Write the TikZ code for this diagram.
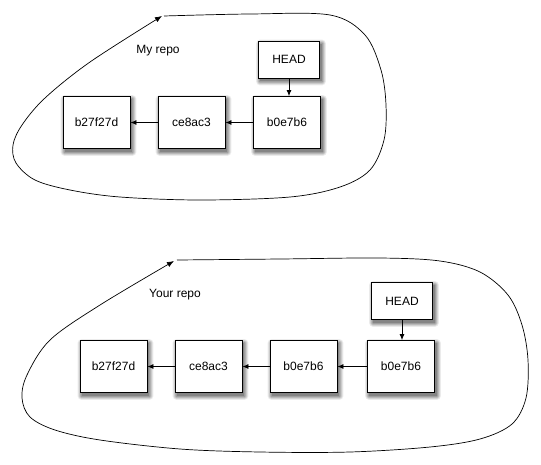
\documentclass[tikz,border=0pt]{standalone}
\usepackage{fontspec}
\setmainfont{Liberation Sans}
\usetikzlibrary{arrows.meta,backgrounds,calc}
\begin{document}
\begin{tikzpicture}[x=1pt,y=-1pt,
  box/.style={draw,line width=0.8pt,fill=white,inner sep=0pt,
    font=\fontsize{12}{14}\selectfont},
  commit/.style={box,minimum width=67pt,minimum height=52pt},
  headbox/.style={box,minimum width=61pt,minimum height=37pt},
  link/.style={line width=0.8pt,-{Latex[length=6pt,width=5pt]}},
  loop/.style={line width=0.7pt,-{Latex[length=7pt,width=5.5pt]}},
  lbl/.style={font=\fontsize{12}{14}\selectfont}]
\useasboundingbox (0,0) rectangle (541,464);

% ---- My repo ----
\draw[loop] plot[smooth,tension=0.55] coordinates {
  (164,16) (250,14) (330,15) (365,35) (381,70) (386,105) (384,140)
  (370,170) (340,187) (290,197) (200,200) (120,197) (70,190) (35,180)
  (16,163) (13,145) (22,125) (45,98) (90,62) (162,16)};
\node[lbl] (myrepo) at (158,51) {My repo};
\node[commit] (a1) at (96.5,122.5) {b27f27d};
\node[commit] (a2) at (191.5,122.5) {ce8ac3};
\node[commit] (a3) at (287,122.5) {b0e7b6};
\node[headbox] (ah) at (289,59.5) {HEAD};
\draw[link] (a3) -- (a2);
\draw[link] (a2) -- (a1);
\draw[link] (ah.south) -- (ah.south |- a3.north);

% ---- Your repo ----
\draw[loop] plot[smooth,tension=0.55] coordinates {
  (177,260) (280,259) (380,258) (440,261) (480,272) (508,295) (522,325)
  (528,360) (526,398) (512,424) (480,439) (430,447) (350,452) (260,452)
  (180,449) (100,440) (55,430) (30,417) (22,398) (27,375) (50,340)
  (100,305) (174,261)};
\node[lbl] (yourrepo) at (175,295) {Your repo};
\node[commit] (b1) at (113.5,366.5) {b27f27d};
\node[commit] (b2) at (208.5,366.5) {ce8ac3};
\node[commit] (b3) at (303.5,366.5) {b0e7b6};
\node[commit] (b4) at (401,366.5) {b0e7b6};
\node[headbox] (bh) at (402,301) {HEAD};
\draw[link] (b4) -- (b3);
\draw[link] (b3) -- (b2);
\draw[link] (b2) -- (b1);
\draw[link] (bh.south) -- (bh.south |- b4.north);

% ---- shadows ----
\begin{pgfonlayer}{background}
\foreach \n in {a1,a2,a3,ah,b1,b2,b3,b4,bh}{
  \foreach \r/\o in {4/0.08,3/0.10,2/0.12,1/0.14,0/0.16}{
    \fill[black,opacity=\o,rounded corners=\r pt]
      ($(\n.north west)+(2-\r,3-\r)$) rectangle ($(\n.south east)+(2+\r,3+\r)$);
  }
}
\end{pgfonlayer}
\end{tikzpicture}
\end{document}
